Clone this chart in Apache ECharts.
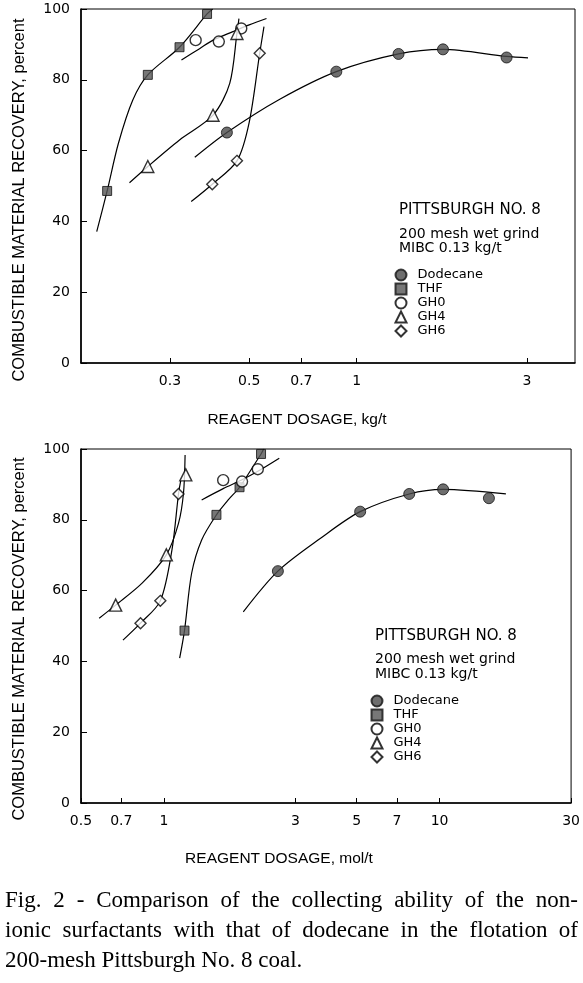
<!DOCTYPE html>
<html><head><meta charset="utf-8">
<script src="https://cdn.jsdelivr.net/npm/echarts@6/dist/echarts.min.js"></script>
<style>html,body{margin:0;padding:0;background:#fff}#c{width:583px;height:983px}</style>
</head><body><div id="c"></div><script>
// ---------- DATA ----------
const yTicks = [0, 20, 40, 60, 80, 100];
const topXTicks = [0.3, 0.5, 0.7, 1, 3];          // kg/t
const botXTicks = [0.5, 0.7, 1, 3, 5, 7, 10, 30];  // mol/t
const seriesNames = ['Dodecane', 'THF', 'GH0', 'GH4', 'GH6'];

// Top panel (kg/t) measured points
const topDodecaneX = [0.433, 0.877, 1.31, 1.745, 2.63];
const topDodecaneY = [65.1, 82.3, 87.3, 88.6, 86.3];
const topTHFX = [0.20, 0.26, 0.319, 0.381];
const topTHFY = [48.6, 81.4, 89.2, 98.6];
const topGH0X = [0.354, 0.411, 0.475];
const topGH0Y = [91.2, 90.8, 94.5];
const topGH4X = [0.26, 0.396, 0.462];
const topGH4Y = [55.5, 70.0, 93.1];
const topGH6X = [0.394, 0.462, 0.535];
const topGH6Y = [50.5, 57.1, 87.5];
// Top panel fitted curves
const topDodecaneCurveX = [0.352, 0.433, 0.609, 0.877, 1.31, 1.745, 2.63, 3.02];
const topDodecaneCurveY = [58.1, 65.1, 74.5, 82.3, 87.3, 88.6, 86.6, 86.2];
const topTHFCurveX = [0.187, 0.20, 0.215, 0.236, 0.26, 0.319, 0.381, 0.395];
const topTHFCurveY = [37.1, 48.6, 62.0, 74.3, 81.4, 89.2, 98.6, 100];
const topGH0CurveX = [0.323, 0.363, 0.396, 0.45, 0.50, 0.559];
const topGH0CurveY = [85.6, 88.8, 91.2, 93.6, 95.5, 97.3];
const topGH4CurveX = [0.231, 0.26, 0.319, 0.396, 0.441, 0.462, 0.468];
const topGH4CurveY = [50.9, 55.5, 63.0, 70.0, 79.0, 93.1, 97.3];
const topGH6CurveX = [0.344, 0.394, 0.462, 0.50, 0.535, 0.55];
const topGH6CurveY = [45.6, 50.5, 57.1, 68.0, 87.5, 95.0];

// Bottom panel (mol/t) measured points
const botDodecaneX = [2.59, 5.15, 7.76, 10.3, 15.1];
const botDodecaneY = [65.5, 82.3, 87.3, 88.6, 86.1];
const botTHFX = [1.187, 1.55, 1.88, 2.25];
const botTHFY = [48.7, 81.4, 89.2, 98.6];
const botGH0X = [1.64, 1.92, 2.19];
const botGH0Y = [91.2, 90.8, 94.3];
const botGH4X = [0.668, 1.02, 1.20];
const botGH4Y = [55.9, 70.1, 92.7];
const botGH6X = [0.822, 0.97, 1.129];
const botGH6Y = [50.8, 57.1, 87.3];
// Bottom panel fitted curves
const botDodecaneCurveX = [1.94, 2.59, 3.7, 5.15, 7.76, 10.3, 17.4];
const botDodecaneCurveY = [54.0, 65.5, 74.8, 82.3, 87.3, 88.6, 87.3];
const botTHFCurveX = [1.14, 1.187, 1.26, 1.37, 1.55, 1.71, 1.88, 2.25, 2.3];
const botTHFCurveY = [40.9, 48.7, 64.9, 74.3, 81.4, 85.6, 89.2, 98.6, 100];
const botGH0CurveX = [1.37, 1.64, 1.92, 2.19, 2.62];
const botGH0CurveY = [85.6, 88.8, 91.3, 93.7, 97.4];
const botGH4CurveX = [0.582, 0.668, 0.833, 1.02, 1.129, 1.177, 1.193];
const botGH4CurveY = [52.2, 55.9, 62.1, 70.1, 79.0, 87.5, 98.3];
const botGH6CurveX = [0.71, 0.822, 0.97, 1.069, 1.129, 1.15];
const botGH6CurveY = [46.0, 50.8, 57.1, 71.5, 87.3, 91.0];

// ---------- STYLE ----------
const symStyle = {
  Dodecane: { symbol: 'circle', size: 11, itemStyle: { color: '#4a4a4a', borderColor: '#111', borderWidth: 1 } },
  THF: { symbol: 'rect', size: 9, itemStyle: { color: '#555', borderColor: '#111', borderWidth: 1 } },
  GH0: { symbol: 'circle', size: 11, itemStyle: { color: '#fff', borderColor: '#000', borderWidth: 1.4 } },
  GH4: { symbol: 'triangle', size: 12, itemStyle: { color: '#fff', borderColor: '#000', borderWidth: 1.4 } },
  GH6: { symbol: 'diamond', size: 11, itemStyle: { color: '#fff', borderColor: '#000', borderWidth: 1.4 } }
};
const L10 = Math.log10;
const pairs = (xs, ys) => xs.map((x, i) => [L10(x), ys[i]]);

const panels = [
  { sets: {
      Dodecane: [topDodecaneX, topDodecaneY, topDodecaneCurveX, topDodecaneCurveY],
      THF: [topTHFX, topTHFY, topTHFCurveX, topTHFCurveY],
      GH0: [topGH0X, topGH0Y, topGH0CurveX, topGH0CurveY],
      GH4: [topGH4X, topGH4Y, topGH4CurveX, topGH4CurveY],
      GH6: [topGH6X, topGH6Y, topGH6CurveX, topGH6CurveY] } },
  { sets: {
      Dodecane: [botDodecaneX, botDodecaneY, botDodecaneCurveX, botDodecaneCurveY],
      THF: [botTHFX, botTHFY, botTHFCurveX, botTHFCurveY],
      GH0: [botGH0X, botGH0Y, botGH0CurveX, botGH0CurveY],
      GH4: [botGH4X, botGH4Y, botGH4CurveX, botGH4CurveY],
      GH6: [botGH6X, botGH6Y, botGH6CurveX, botGH6CurveY] } }
];

const series = [];
panels.forEach((p, gi) => {
  seriesNames.forEach(name => {
    const [px, py, cx, cy] = p.sets[name];
    series.push({
      name: name + ' curve', type: 'line', xAxisIndex: gi, yAxisIndex: gi,
      data: pairs(cx, cy), smooth: 0.3, symbol: 'none', silent: true,
      lineStyle: { color: '#000', width: 1.2 }, z: 2
    });
    const s = symStyle[name];
    series.push({
      name: name, type: 'scatter', xAxisIndex: gi, yAxisIndex: gi,
      data: pairs(px, py), symbol: s.symbol, symbolSize: s.size, itemStyle: s.itemStyle, z: 3, silent: true
    });
  });
});

const tickFmt = ticks => v => {
  for (const t of ticks) if (Math.abs(L10(t) - v) < 1e-6) return String(t);
  return '';
};
const numFont = { fontFamily: 'DejaVu Sans', fontSize: 14, color: '#000' };

function xAxisCfg(gi, min, max, ticks) {
  return {
    gridIndex: gi, type: 'value', min: min, max: max,
    axisLine: { show: true, onZero: false, lineStyle: { color: '#000', width: 1.6 } },
    axisTick: { show: true, inside: true, length: 5, customValues: ticks.map(L10), lineStyle: { color: '#000', width: 1 } },
    axisLabel: Object.assign({ show: true, customValues: ticks.map(L10), formatter: tickFmt(ticks), margin: 11 }, numFont),
    splitLine: { show: false }, minorTick: { show: false }
  };
}
function yAxisCfg(gi) {
  return {
    gridIndex: gi, type: 'value', min: 0, max: 100, interval: 20,
    axisLine: { show: true, onZero: false, lineStyle: { color: '#000', width: 1.6 } },
    axisTick: { show: true, inside: true, length: 6, lineStyle: { color: '#000', width: 1 } },
    axisLabel: Object.assign({ show: true, margin: 11 }, numFont),
    splitLine: { show: false }
  };
}

const gridBase = { left: 81, width: 494, height: 354, show: true, borderColor: '#000', borderWidth: 1, backgroundColor: 'transparent' };

function legendCfg(left, top) {
  return {
    show: true, data: seriesNames, orient: 'vertical', left: left, top: top,
    itemWidth: 11, itemHeight: 11, itemGap: 0, selectedMode: false, padding: 0,
    textStyle: { fontFamily: 'DejaVu Sans', fontSize: 13, color: '#000', lineHeight: 14, padding: [0, 0, 0, 6] }
  };
}

const graphics = [];
function txt(x, y, text, font, extra) {
  graphics.push(Object.assign({
    type: 'text', x: x, y: y, silent: true,
    style: Object.assign({ text: text, fill: '#000', font: font, textAlign: 'left', textVerticalAlign: 'middle' }, extra || {})
  }));
}
function legendHeader(x, y) {
  txt(x, y, 'PITTSBURGH NO. 8', '15px "DejaVu Sans"');
  txt(x, y + 23.5, '200 mesh wet grind', '14px "DejaVu Sans"');
  txt(x, y + 38, 'MIBC 0.13 kg/t', '14px "DejaVu Sans"');
}
legendHeader(399, 210.5);
legendHeader(375, 636);

const yTitle = 'COMBUSTIBLE MATERIAL RECOVERY, percent';
[200, 639].forEach(cy => {
  graphics.push({ type: 'text', x: 19, y: cy, rotation: Math.PI / 2, silent: true,
    style: { text: yTitle, fill: '#000', font: '16.5px "Liberation Sans"', textAlign: 'center', textVerticalAlign: 'middle' } });
});
txt(297, 420, 'REAGENT DOSAGE, kg/t', '15.5px "Liberation Sans"', { textAlign: 'center' });
txt(279, 859, 'REAGENT DOSAGE, mol/t', '15.5px "Liberation Sans"', { textAlign: 'center' });

// caption, justified
const capFont = '23px "Liberation Serif"';
const capLines = [
  ['Fig. 2 - Comparison of the collecting ability of the non-', 901, true],
  ['ionic surfactants with that of dodecane in the flotation of', 931, true],
  ['200-mesh Pittsburgh No. 8 coal.', 961, false]
];
const mctx = document.createElement('canvas').getContext('2d');
mctx.font = capFont;
const capL = 5, capR = 578;
capLines.forEach(([line, y, just]) => {
  const words = line.split(' ');
  const ws = words.map(w => mctx.measureText(w).width);
  const tot = ws.reduce((a, b) => a + b, 0);
  const gap = just ? (capR - capL - tot) / (words.length - 1) : mctx.measureText(' ').width;
  let x = capL;
  words.forEach((w, i) => { txt(x, y, w, capFont); x += ws[i] + gap; });
});

const chart = echarts.init(document.getElementById('c'), null, { renderer: 'canvas' });
chart.setOption({
  backgroundColor: '#fff',
  animation: false,
  grid: [Object.assign({ top: 9 }, gridBase), Object.assign({ top: 449 }, gridBase)],
  xAxis: [xAxisCfg(0, -0.7722, 0.6116, topXTicks), xAxisCfg(1, L10(0.5), L10(30), botXTicks)],
  yAxis: [yAxisCfg(0), yAxisCfg(1)],
  legend: [legendCfg(394.5, 268), legendCfg(370.5, 694)],
  series: series,
  graphic: graphics
});
</script></body></html>
